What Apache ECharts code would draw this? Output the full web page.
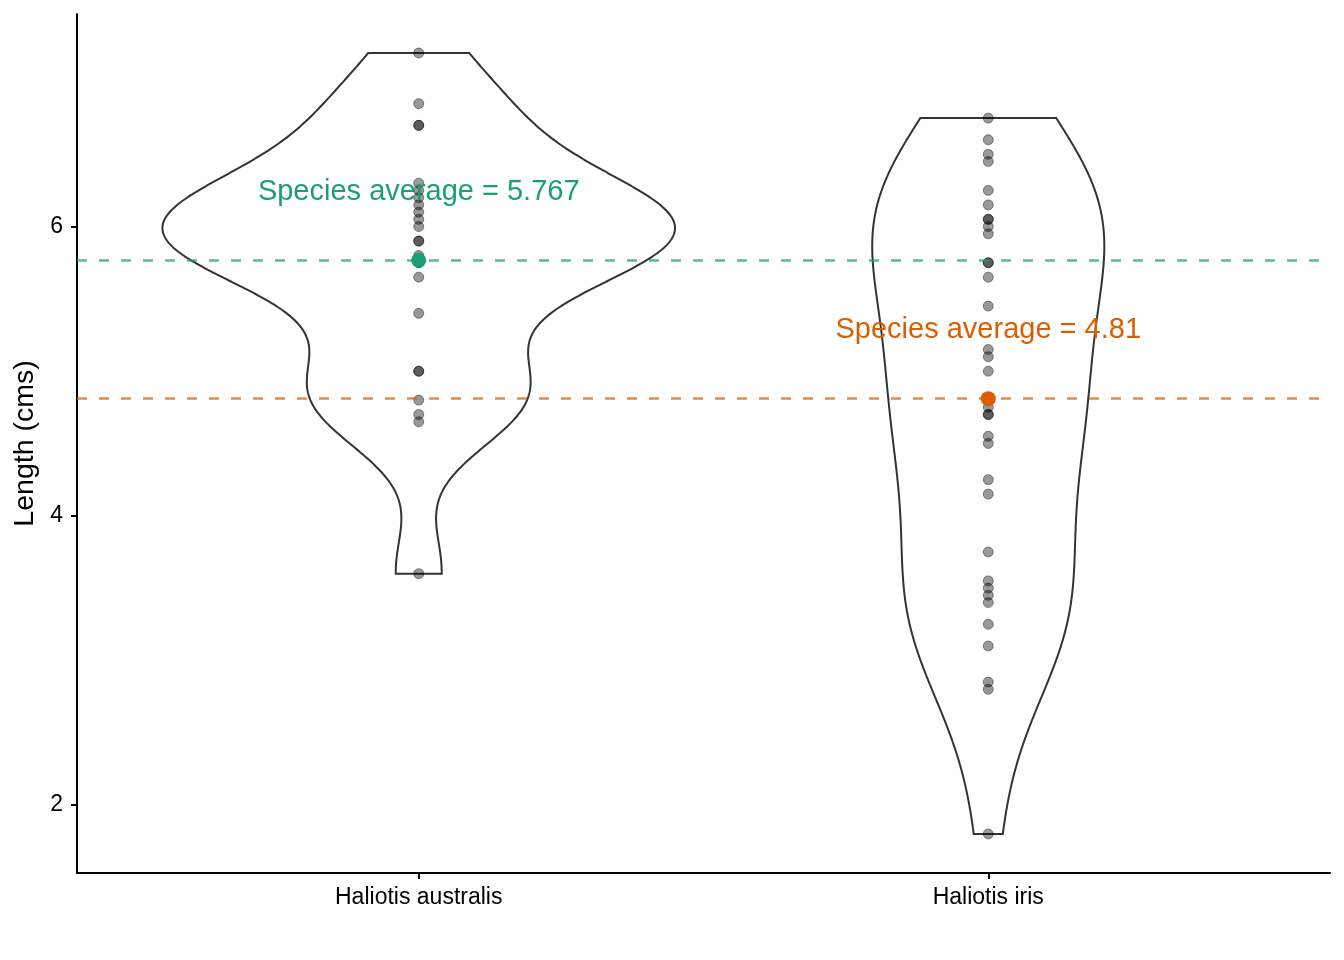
<!DOCTYPE html>
<html>
<head>
<meta charset="utf-8">
<script src="https://cdn.jsdelivr.net/npm/echarts@6/dist/echarts.min.js"></script>
<style>html,body{margin:0;padding:0;background:#fff}#c{width:1344px;height:960px}</style>
</head>
<body>
<div id="c"></div>
<script>
// ---- data ----
const categories = ['Haliotis australis', 'Haliotis iris'];
const australisLengths = [7.2, 6.85, 6.7, 6.7, 6.3, 6.25, 6.2, 6.15, 6.1, 6.05, 6.0, 5.9, 5.9, 5.8, 5.75, 5.75, 5.65, 5.4, 5.0, 5.0, 4.8, 4.7, 4.65, 3.6];
const irisLengths = [6.75, 6.6, 6.5, 6.45, 6.25, 6.15, 6.05, 6.05, 6.0, 5.95, 5.75, 5.75, 5.65, 5.45, 5.15, 5.1, 5.0, 4.75, 4.7, 4.7, 4.55, 4.5, 4.25, 4.15, 3.75, 3.55, 3.5, 3.45, 3.4, 3.25, 3.1, 2.85, 2.8, 1.8];
const speciesAverages = [5.767, 4.81];
const averageColors = ['#1B9E77', '#D95F02'];
const averageLineColors = ['rgba(27,158,119,0.72)', 'rgba(217,95,2,0.72)'];
const yTicks = [2, 4, 6];
const xTicks = [1, 2];

// ---- violin density (gaussian KDE, bw.nrd0, trimmed to data range) ----
function quantile7(sorted, p) {
  const h = (sorted.length - 1) * p, lo = Math.floor(h);
  return sorted[lo] + (h - lo) * ((sorted[lo + 1] ?? sorted[lo]) - sorted[lo]);
}
function bwNrd0(x) {
  const n = x.length, m = x.reduce((a, b) => a + b, 0) / n;
  const sd = Math.sqrt(x.reduce((a, b) => a + (b - m) * (b - m), 0) / (n - 1));
  const s = x.slice().sort((a, b) => a - b);
  const iqr = quantile7(s, 0.75) - quantile7(s, 0.25);
  const lo = Math.min(sd, iqr / 1.34);
  return 0.9 * lo * Math.pow(n, -0.2);
}
function kde(x) {
  const bw = bwNrd0(x), n = x.length;
  const mn = Math.min(...x), mx = Math.max(...x);
  const out = [];
  const N = 512;
  for (let k = 0; k < N; k++) {
    const t = mn + (mx - mn) * k / (N - 1);
    let s = 0;
    for (const xi of x) { const u = (t - xi) / bw; s += Math.exp(-0.5 * u * u); }
    out.push([t, s / (n * bw * Math.sqrt(2 * Math.PI))]);
  }
  return out;
}
const groups = [australisLengths, irisLengths];
const densities = groups.map(kde);
const dMax = Math.max(...densities.map(d => Math.max(...d.map(p => p[1]))));
const violinHalfWidth = 0.45;

const allVals = australisLengths.concat(irisLengths);
const dataMin = Math.min(...allVals), dataMax = Math.max(...allVals);
const pad = (dataMax - dataMin) * 0.05;

const chart = echarts.init(document.getElementById('c'));
const font = 'Liberation Sans, Arial, Helvetica, sans-serif';

chart.setOption({
  animation: false,
  backgroundColor: '#fff',
  grid: { left: 77, right: 14, top: 14, bottom: 87, containLabel: false },
  xAxis: {
    type: 'value', min: 0.4, max: 2.6,
    splitLine: { show: false },
    axisLine: { show: true, lineStyle: { color: '#000', width: 2 } },
    axisTick: { show: true, customValues: xTicks, length: 6, lineStyle: { color: '#000', width: 2 } },
    axisLabel: { customValues: xTicks, margin: 13, fontSize: 23, color: '#000', fontFamily: font,
      formatter: v => categories[Math.round(v) - 1] }
  },
  yAxis: {
    type: 'value', min: dataMin - pad, max: dataMax + pad,
    name: 'Length (cms)', nameLocation: 'middle', nameGap: 31,
    nameTextStyle: { fontSize: 28.5, color: '#000', fontFamily: font },
    splitLine: { show: false },
    axisLine: { show: true, lineStyle: { color: '#000', width: 2 } },
    axisTick: { show: true, customValues: yTicks, length: 6, lineStyle: { color: '#000', width: 2 } },
    axisLabel: { customValues: yTicks, margin: 14, fontSize: 23, color: '#000', fontFamily: font }
  },
  series: [
    {
      type: 'custom', silent: true, z: 1,
      data: [[1, dataMin], [2, dataMax]],
      renderItem: (params, api) => {
        const i = params.dataIndex, cx = i + 1, pts = densities[i];
        const right = pts.map(([y, d]) => api.coord([cx + violinHalfWidth * d / dMax, y]));
        const left = pts.slice().reverse().map(([y, d]) => api.coord([cx - violinHalfWidth * d / dMax, y]));
        return { type: 'polygon', shape: { points: right.concat(left) },
          style: { fill: '#fff', stroke: '#333333', lineWidth: 2 } };
      }
    },
    {
      type: 'scatter', z: 3, symbolSize: 10,
      itemStyle: { color: 'rgba(0,0,0,0.4)', borderColor: 'rgba(0,0,0,0.4)', borderWidth: 1, opacity: 1 },
      data: australisLengths.map(v => [1, v]).concat(irisLengths.map(v => [2, v])),
      markLine: {
        silent: true, symbol: 'none', label: { show: false },
        data: speciesAverages.map((m, i) => ({ yAxis: m,
          lineStyle: { color: averageLineColors[i], type: [10, 12], width: 2.6, opacity: 1 } }))
      }
    },
    {
      type: 'scatter', z: 4, symbolSize: 15,
      itemStyle: { opacity: 1 },
      data: speciesAverages.map((m, i) => ({ value: [i + 1, m], itemStyle: { color: averageColors[i], opacity: 1 } }))
    },
    {
      type: 'scatter', z: 5, symbolSize: 0, silent: true,
      itemStyle: { opacity: 1 },
      data: speciesAverages.map((m, i) => ({ value: [i + 1, m + 0.5],
        label: { show: true, position: 'inside', offset: [0, 4], formatter: 'Species average = ' + m,
          fontSize: 29, color: averageColors[i], fontFamily: font, opacity: 1 } }))
    }
  ]
});
</script>
</body>
</html>
